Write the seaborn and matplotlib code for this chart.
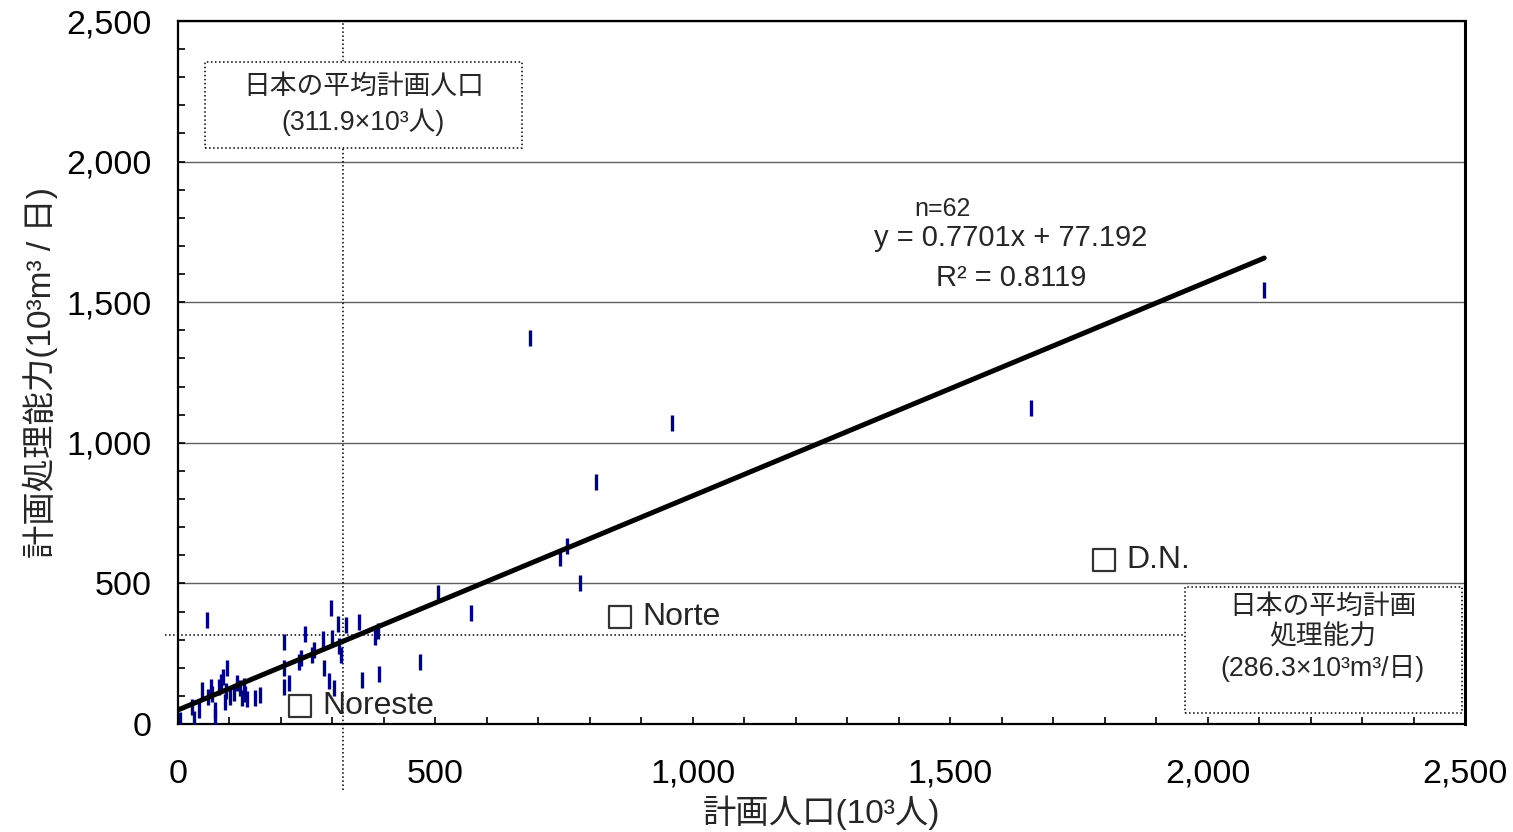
import numpy as np
import pandas as pd
import matplotlib
matplotlib.use("Agg")
import matplotlib.pyplot as plt
import seaborn as sns
from matplotlib.patches import Rectangle
from matplotlib.ticker import MultipleLocator, FuncFormatter

# --- データ（計画人口 [10^3人], 計画処理能力 [10^3m3/日]） ---
POP = [3, 31, 28, 40, 47, 57, 58, 66, 71, 72, 79, 84, 87, 93, 96, 101, 115, 121,
       124, 128, 131, 150, 160, 206, 206, 206, 215, 236, 239, 246, 260, 264, 281,
       284, 294, 297, 300, 304, 311, 313, 316, 326, 352, 357, 383, 389, 390, 470,
       505, 570, 684, 743, 756, 781, 811, 960, 1657, 2110, 64, 108, 135, 92]
CAP = [14, 17, 60, 50, 121, 370, 95, 105, 50, 25, 133, 150, 168, 118, 200, 97, 145,
       127, 91, 135, 105, 91, 103, 291, 200, 133, 145, 222, 236, 321, 245, 263, 302,
       198, 153, 412, 305, 127, 357, 278, 245, 352, 364, 156, 310, 331, 177, 219,
       466, 396, 1372, 590, 632, 500, 861, 1071, 1124, 1543, 130, 110, 90, 80]

# 対象地域
SITE_NAMES = ["Noreste", "Norte", "D.N."]
SITE_POP = [237, 859, 1799]
SITE_CAP = [64, 380, 583]

# 回帰直線（図上の描画位置）
TREND_X = [0, 2110]
TREND_Y = [50, 1657]
EQ_TEXT = ["n=62", "y = 0.7701x + 77.192", "R² = 0.8119"]

# 日本の平均値（表示値と図上の点線位置）
MEAN_POP = 311.9
MEAN_CAP = 286.3
MEAN_POP_LINE = 320
MEAN_CAP_LINE = 316

df = pd.DataFrame({"pop": POP, "cap": CAP})
sites = pd.DataFrame({"name": SITE_NAMES, "pop": SITE_POP, "cap": SITE_CAP})

sns.set_theme(style="white")
plt.rcParams['font.family'] = ['Liberation Sans', 'Noto Sans CJK JP', 'DejaVu Sans']
plt.rcParams['axes.unicode_minus'] = False

fig = plt.figure(figsize=(15.13, 8.32), dpi=100)
ax = fig.add_axes([178 / 1513, 1 - 724 / 832, (1465 - 178) / 1513, (724 - 21) / 832])

ax.set_xlim(0, 2500)
ax.set_ylim(0, 2500)

# グリッド（横線のみ）
ax.yaxis.set_major_locator(MultipleLocator(500))
ax.xaxis.set_major_locator(MultipleLocator(500))
ax.xaxis.set_minor_locator(MultipleLocator(100))
ax.yaxis.set_minor_locator(MultipleLocator(100))
ax.grid(axis='y', which='major', color='#606060', lw=1.0)
ax.grid(axis='x', visible=False)
ax.set_axisbelow(True)

fmt = FuncFormatter(lambda v, p: f"{int(v):,}")
ax.xaxis.set_major_formatter(fmt)
ax.yaxis.set_major_formatter(fmt)
ax.tick_params(which='both', direction='in', length=5, width=1.2, color='black',
               bottom=True, left=True, top=False, right=False)
ax.tick_params(which='major', labelsize=24.5, labelcolor='black')
ax.tick_params(axis='x', which='major', pad=25)
ax.tick_params(axis='y', which='major', pad=19)
for s in ax.spines.values():
    s.set_color('black')
    s.set_linewidth(1.6)
ax.spines['right'].set_linewidth(2.2)

# 平均値の点線
ax.plot([MEAN_POP_LINE, MEAN_POP_LINE], [-235, 2500], ls=':', color='black', lw=1.1,
        clip_on=False, zorder=1)
ax.plot([-25, 1956], [MEAN_CAP_LINE, MEAN_CAP_LINE], ls=':', color='black', lw=1.1,
        clip_on=False, zorder=1)

# 散布図
sns.scatterplot(data=df, x='pop', y='cap', marker='|', s=140, color='#000080',
                linewidth=2.4, ax=ax, zorder=3, legend=False)

# 回帰直線
sns.lineplot(x=TREND_X, y=TREND_Y, color='black', lw=3.6, ax=ax, zorder=4)

# 対象地域
sns.scatterplot(data=sites, x='pop', y='cap', marker='s', s=250, facecolor='white',
                edgecolor='#333333', linewidth=1.6, ax=ax, zorder=5, legend=False)
for _, r in sites.iterrows():
    ax.text(r['pop'] + 43, r['cap'], r['name'], fontsize=23, va='center', ha='left', zorder=5)

# 回帰式
ax.text(1486, 1831, EQ_TEXT[0], fontsize=18, ha='center', va='center')
ax.text(1618, 1728, EQ_TEXT[1], fontsize=21, ha='center', va='center')
ax.text(1618, 1586, EQ_TEXT[2], fontsize=21, ha='center', va='center')

# 注記ボックス
ax.add_patch(Rectangle((52, 2048), 616, 306, facecolor='white', edgecolor='black',
                       ls=':', lw=1.1, zorder=6))
ax.text(360, 2201, f"日本の平均計画人口\n({MEAN_POP}×10³人)", fontsize=19.3, ha='center',
        va='center', linespacing=1.4, zorder=7)
ax.add_patch(Rectangle((1956, 39), 538, 448, facecolor='white', edgecolor='black',
                       ls=':', lw=1.1, zorder=6))
ax.text(2224, 307, f"日本の平均計画\n処理能力\n({MEAN_CAP}×10³m³/日)", fontsize=19.3,
        ha='center', va='center', linespacing=1.22, zorder=7)

ax.set_xlabel("計画人口(10³人)", fontsize=24, labelpad=4)
ax.set_ylabel("計画処理能力(10³m³ / 日)", fontsize=24, labelpad=6)

fig.savefig("out.png", dpi=100)
